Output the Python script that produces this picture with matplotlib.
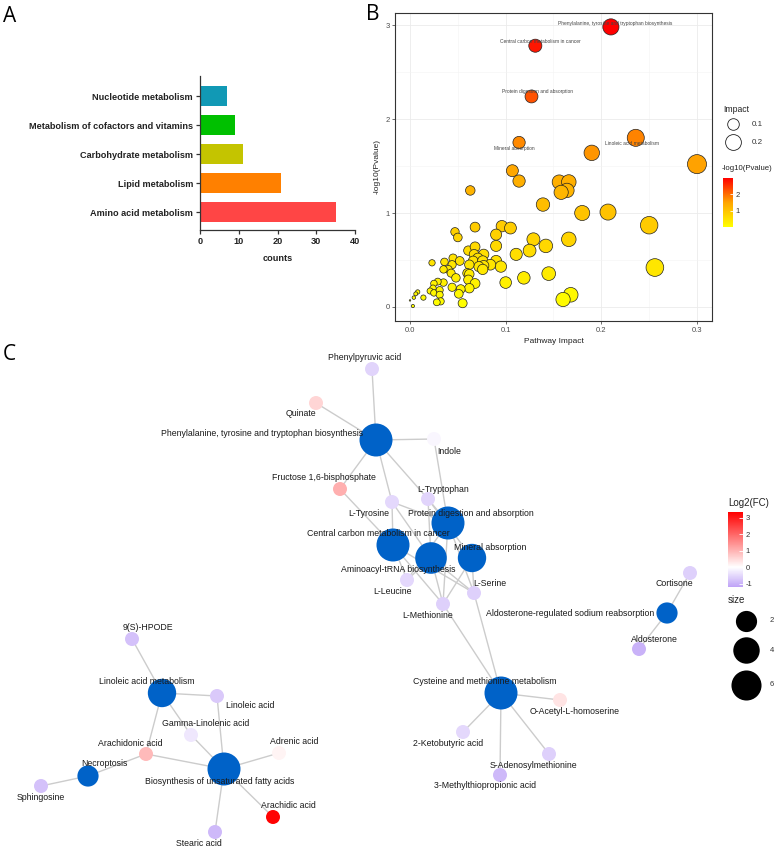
import matplotlib
matplotlib.use("Agg")
import matplotlib.pyplot as plt
import numpy as np
from matplotlib.colors import LinearSegmentedColormap, Normalize
from matplotlib.cm import ScalarMappable

plt.rcParams['font.family'] = ['Liberation Sans', 'DejaVu Sans']
plt.rcParams['axes.unicode_minus'] = False

# ---- panel A: class counts
cls_names = ['Amino acid metabolism', 'Lipid metabolism', 'Carbohydrate metabolism',
             'Metabolism of cofactors and vitamins', 'Nucleotide metabolism']
cls_counts = [35, 21, 11, 9, 7]
cls_colors = ['#FF4545', '#FF8000', '#C4C400', '#00C000', '#1199B5']

# ---- panel B: pathway impact vs -log10(p)
impact = [0.210, 0.131, 0.127, 0.114, 0.236, 0.190, 0.300, 0.107, 0.114, 0.156,
          0.166, 0.164, 0.158, 0.063, 0.139, 0.180, 0.207, 0.250, 0.256, 0.166,
          0.168, 0.160, 0.145, 0.142, 0.129, 0.125, 0.119, 0.111, 0.100, 0.096,
          0.105, 0.090, 0.090, 0.090, 0.095, 0.068, 0.047, 0.050, 0.061, 0.068,
          0.067, 0.077, 0.071, 0.066, 0.076, 0.084, 0.077, 0.072, 0.076, 0.062,
          0.060, 0.062, 0.061, 0.068, 0.062, 0.053, 0.051, 0.055, 0.045, 0.052,
          0.044, 0.040, 0.043, 0.048, 0.044, 0.036, 0.035, 0.035, 0.029, 0.023,
          0.025, 0.024, 0.021, 0.025, 0.031, 0.031, 0.032, 0.028, 0.014, 0.008,
          0.006, 0.004, 0.003, 0.000]
neglogp = [2.98, 2.78, 2.24, 1.75, 1.80, 1.64, 1.52, 1.45, 1.34, 1.33,
           1.33, 1.24, 1.22, 1.24, 1.09, 1.00, 1.01, 0.87, 0.42, 0.72,
           0.13, 0.08, 0.355, 0.65, 0.72, 0.60, 0.31, 0.56, 0.26, 0.86,
           0.84, 0.77, 0.65, 0.49, 0.43, 0.85, 0.80, 0.74, 0.60, 0.64,
           0.56, 0.56, 0.52, 0.49, 0.49, 0.45, 0.44, 0.43, 0.40, 0.45,
           0.36, 0.35, 0.29, 0.25, 0.20, 0.19, 0.14, 0.04, 0.52, 0.49,
           0.45, 0.40, 0.36, 0.31, 0.21, 0.48, 0.40, 0.26, 0.27, 0.47,
           0.25, 0.20, 0.17, 0.15, 0.18, 0.13, 0.06, 0.05, 0.10, 0.16,
           0.14, 0.10, 0.01, 0.07]
b_labels = ['Phenylalanine, tyrosine and tryptophan biosynthesis',
            'Central carbon metabolism in cancer', 'Protein digestion and absorption',
            'Mineral absorption', 'Linoleic acid metabolism']
b_label_x = [0.215, 0.136, 0.133, 0.109, 0.232]
b_label_y = [3.02, 2.82, 2.29, 1.69, 1.74]

# ---- panel C: network (layout coordinates)
node_names = ['Phenylalanine, tyrosine and tryptophan biosynthesis', 'Protein digestion and absorption',
              'Central carbon metabolism in cancer', 'Aminoacyl-tRNA biosynthesis', 'Mineral absorption',
              'Aldosterone-regulated sodium reabsorption', 'Cysteine and methionine metabolism',
              'Linoleic acid metabolism', 'Biosynthesis of unsaturated fatty acids', 'Necroptosis',
              'Phenylpyruvic acid', 'Quinate', 'Indole', 'Fructose 1,6-bisphosphate', 'L-Tyrosine',
              'L-Tryptophan', 'L-Leucine', 'L-Serine', 'L-Methionine', 'Cortisone', 'Aldosterone',
              'O-Acetyl-L-homoserine', '2-Ketobutyric acid', 'S-Adenosylmethionine',
              '3-Methylthiopropionic acid', '9(S)-HPODE', 'Linoleic acid', 'Gamma-Linolenic acid',
              'Arachidonic acid', 'Adrenic acid', 'Sphingosine', 'Arachidic acid', 'Stearic acid']
node_x = [376, 448, 393, 431, 472, 667, 501, 162, 224, 88,
          372, 316, 434, 340, 392, 428, 407, 474, 443, 690, 639,
          560, 463, 549, 500, 132, 217, 191, 146, 279, 41, 273, 215]
node_y = [440, 523, 545, 558, 558, 613, 693, 693, 769, 776,
          369, 403, 439, 489, 502, 499, 580, 593, 604, 573, 649,
          700, 732, 754, 775, 639, 696, 735, 754, 753, 786, 817, 832]
node_size = [8, 8, 8, 7, 5, 2, 8, 5, 8, 2] + [1] * 23
node_fc = [np.nan] * 10 + [-0.55, 0.55, -0.1, 1.05, -0.5, -0.55, -0.5, -0.6, -0.6, -0.6, -1.0,
                           0.35, -0.5, -0.6, -0.9, -0.8, -0.7, -0.3, 0.9, 0.15, -0.8, 3.3, -0.9]
label_x = [262, 471, 378, 398, 490, 570, 485, 147, 220, 104,
           365, 301, 449, 324, 369, 443, 392, 490, 428, 674, 654,
           575, 448, 533, 485, 148, 250, 206, 130, 294, 41, 288, 199]
label_y = [434, 514, 534, 569, 547, 614, 682, 682, 781, 764,
           358, 414, 451, 478, 513, 489, 592, 583, 616, 584, 639,
           711, 743, 766, 786, 628, 705, 724, 744, 742, 798, 806, 844]
edges = [
    ('Phenylalanine, tyrosine and tryptophan biosynthesis', ['Phenylpyruvic acid', 'Quinate', 'Indole',
     'Fructose 1,6-bisphosphate', 'L-Tyrosine', 'L-Tryptophan']),
    ('Central carbon metabolism in cancer', ['Fructose 1,6-bisphosphate', 'L-Tyrosine', 'L-Leucine',
     'L-Serine', 'L-Methionine']),
    ('Aminoacyl-tRNA biosynthesis', ['L-Tyrosine', 'L-Tryptophan', 'L-Leucine', 'L-Serine', 'L-Methionine']),
    ('Protein digestion and absorption', ['Indole', 'L-Tyrosine', 'L-Tryptophan', 'L-Leucine',
     'L-Serine', 'L-Methionine']),
    ('Mineral absorption', ['L-Tryptophan', 'L-Serine', 'L-Methionine']),
    ('Cysteine and methionine metabolism', ['L-Methionine', 'L-Serine', 'O-Acetyl-L-homoserine',
     '2-Ketobutyric acid', 'S-Adenosylmethionine', '3-Methylthiopropionic acid']),
    ('Aldosterone-regulated sodium reabsorption', ['Cortisone', 'Aldosterone']),
    ('Linoleic acid metabolism', ['9(S)-HPODE', 'Linoleic acid', 'Gamma-Linolenic acid', 'Arachidonic acid']),
    ('Biosynthesis of unsaturated fatty acids', ['Linoleic acid', 'Gamma-Linolenic acid', 'Arachidonic acid',
     'Adrenic acid', 'Arachidic acid', 'Stearic acid']),
    ('Necroptosis', ['Sphingosine', 'Arachidonic acid']),
]

W, H = 777, 848
fig = plt.figure(figsize=(W / 100, H / 100), dpi=100)

# ===== A =====
axA = fig.add_axes([200 / W, 1 - 230 / H, 155 / W, 154 / H])
axA.barh(range(len(cls_names)), cls_counts, color=cls_colors, height=0.66)
axA.set_yticks(range(len(cls_names)))
axA.set_yticklabels(cls_names, fontsize=6.6, fontweight='bold', color='#222222')
axA.set_xlim(0, 40)
axA.set_xticks([0, 10, 20, 30, 40])
axA.set_ylim(-0.62, 4.69)
for t in axA.get_xticklabels():
    t.set_fontweight('bold')
    t.set_fontsize(6.6)
    t.set_color('#222222')
axA.set_xlabel('counts', fontsize=6.6, fontweight='bold', color='#222222', labelpad=6)
for s in ['top', 'right']:
    axA.spines[s].set_visible(False)
for s in ['left', 'bottom']:
    axA.spines[s].set_color('#333333')
    axA.spines[s].set_linewidth(0.9)
axA.tick_params(length=3, width=0.9, color='#333333', pad=2)

# ===== B =====
cmap_b = LinearSegmentedColormap.from_list('yr', ['#FFFF00', '#FFA500', '#FF0000'])
norm_b = Normalize(min(neglogp), max(neglogp))


def impact_size(v):
    d = 1.5 + 32 * np.sqrt(np.asarray(v))  # diameter in px
    return (d * 0.72) ** 2


axB = fig.add_axes([395 / W, 1 - 321 / H, 317 / W, 308 / H])
axB.set_xlim(-0.0157, 0.3157)
axB.set_ylim(-0.149, 3.128)
axB.set_xticks([0.0, 0.1, 0.2, 0.3])
axB.set_xticklabels(['0.0', '0.1', '0.2', '0.3'])
axB.set_yticks([0, 1, 2, 3])
axB.set_xticks([0.05, 0.15, 0.25], minor=True)
axB.set_yticks([0.5, 1.5, 2.5], minor=True)
axB.grid(which='major', color='#EBEBEB', linewidth=0.6)
axB.grid(which='minor', color='#F3F3F3', linewidth=0.4)
axB.set_axisbelow(True)
axB.tick_params(which='major', length=2.5, width=0.5, color='#333333', labelsize=5.5,
                labelcolor='#4D4D4D', pad=1.5)
axB.tick_params(which='minor', length=0)
for s in axB.spines.values():
    s.set_color('#333333')
    s.set_linewidth(0.8)
axB.scatter(impact, neglogp, s=impact_size(impact), c=neglogp, cmap=cmap_b, norm=norm_b,
            edgecolors='#222222', linewidths=0.5, zorder=3)
for name, lx, ly in zip(b_labels, b_label_x, b_label_y):
    axB.text(lx, ly, name, fontsize=3.5, color='#444444', ha='center', va='center', zorder=4)
axB.set_xlabel('Pathway Impact', fontsize=6, color='#222222', labelpad=3)
axB.set_ylabel('-log10(Pvalue)', fontsize=6, color='#222222', labelpad=3)

caxB = fig.add_axes([723 / W, 1 - 227 / H, 10 / W, 49 / H])
cbB = fig.colorbar(ScalarMappable(norm=norm_b, cmap=cmap_b), cax=caxB, ticks=[1, 2])
cbB.outline.set_visible(False)
caxB.tick_params(length=2.5, width=0.6, color='white', direction='in', labelsize=5.5,
                 labelcolor='#333333', pad=2)

# ===== overlay: legends + network =====
ov = fig.add_axes([0, 0, 1, 1])
ov.set_xlim(0, W)
ov.set_ylim(H, 0)
ov.axis('off')

ov.text(723, 109, 'Impact', fontsize=6.2, color='#222222', ha='left', va='center')
for v, yy in zip([0.1, 0.2], [124, 142]):
    ov.scatter([733], [yy], s=impact_size(v), facecolors='white', edgecolors='#222222', linewidths=0.6)
    ov.text(752, yy, str(v), fontsize=5.8, color='#333333', ha='left', va='center')
ov.text(722, 168, '-log10(Pvalue)', fontsize=5.6, color='#222222', ha='left', va='center')

# panel letters
for lt, lx, ly in [('A', 3, 17), ('B', 366, 15), ('C', 3, 355)]:
    ov.text(lx, ly, lt, fontsize=15, family=['Open Sans', 'DejaVu Sans'], ha='left', va='center')

# network colours
fc_min, fc_max = -1.2, 3.35
mid = (0 - fc_min) / (fc_max - fc_min)
cmap_c = LinearSegmentedColormap.from_list('fc', [(0, '#BFA3F7'), (mid, '#FFFFFF'), (1, '#FF0000')])
norm_c = Normalize(fc_min, fc_max)


def node_diam(s):
    return 14 + 19 * np.sqrt((np.asarray(s, dtype=float) - 1) / 7)


idx = {n: i for i, n in enumerate(node_names)}
for src, targets in edges:
    for t in targets:
        a, b = idx[src], idx[t]
        ov.plot([node_x[a], node_x[b]], [node_y[a], node_y[b]], color='#CCCCCC', lw=1.0, zorder=1)

fc_arr = np.array(node_fc)
cols = [('#0062C8' if np.isnan(f) else cmap_c(norm_c(f))) for f in fc_arr]
sizes = (node_diam(node_size) * 0.72) ** 2
ov.scatter(node_x, node_y, s=sizes, c=cols, linewidths=0, zorder=2)
for n, lx, ly in zip(node_names, label_x, label_y):
    ov.text(lx, ly, n, fontsize=6.3, color='#1A1A1A', ha='center', va='center', zorder=3)

# Log2(FC) legend
ov.text(728, 503, 'Log2(FC)', fontsize=7, color='#222222', ha='left', va='center')
caxC = fig.add_axes([728 / W, 1 - 587 / H, 15 / W, 75 / H])
cbC = fig.colorbar(ScalarMappable(norm=norm_c, cmap=cmap_c), cax=caxC, ticks=[-1, 0, 1, 2, 3])
cbC.outline.set_visible(False)
caxC.tick_params(length=3, width=0.6, color='white', direction='in', labelsize=5.5,
                 labelcolor='#333333', pad=2)

ov.text(728, 600, 'size', fontsize=7, color='#222222', ha='left', va='center')
for sv, yy in zip([2, 4, 6], [621, 650, 685]):
    ov.scatter([746], [yy], s=(node_diam(sv) * 0.72) ** 2, c='black', linewidths=0)
    ov.text(770, yy, str(sv), fontsize=5.5, color='#333333', ha='left', va='center')

fig.savefig('out.png', dpi=100)
